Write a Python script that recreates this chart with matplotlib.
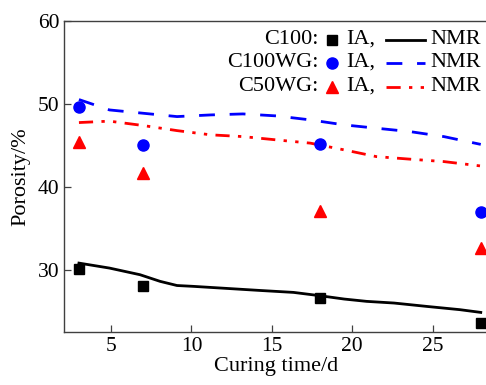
import matplotlib
matplotlib.use("Agg")
import matplotlib.pyplot as plt
from matplotlib.lines import Line2D

plt.rcParams['font.family'] = ['Liberation Serif', 'DejaVu Serif']

# IA measurements (curing days)
ia_days = [3, 7, 18, 28]
ia_c100 = [30.1, 28.0, 26.6, 23.6]
ia_c100wg = [49.6, 45.0, 45.2, 37.0]
ia_c50wg = [45.4, 41.7, 37.1, 32.6]

# NMR curves
nmr_days_c100 = [3.0, 4.9, 6.8, 8.05, 9.1, 10.1, 12.2, 14.3, 16.35, 18.0, 19.5, 20.9, 22.6, 24.65, 26.7, 28.0]
nmr_c100 = [30.8, 30.2, 29.4, 28.6, 28.1, 28.0, 27.75, 27.5, 27.27, 26.87, 26.47, 26.19, 25.99, 25.58, 25.19, 24.86]

nmr_days = [3.0, 4.9, 7.0, 9.1, 11.2, 13.2, 15.3, 17.4, 19.5, 21.5, 23.6, 25.7, 28.0]
nmr_c100wg = [50.5, 49.25, 48.85, 48.45, 48.65, 48.77, 48.53, 48.05, 47.45, 47.05, 46.64, 46.04, 45.1]
nmr_c50wg = [47.73, 47.9, 47.37, 46.76, 46.25, 46.04, 45.64, 45.25, 44.44, 43.63, 43.32, 43.03, 42.5]

series_names = ['C100:', 'C100WG:', 'C50WG:']
colors = ['black', '#0000ff', '#ff0000']
markers = ['s', 'o', '^']
marker_sizes = [7, 8, 8.5]
dash_styles = [None, (5.7, 5.3), (5.1, 3, 1.2, 3, 1.2, 3)]
LW = 2.0

fig = plt.figure(figsize=(4.86, 3.85), dpi=100)
ax = fig.add_axes([64 / 486, 1 - 332 / 385, 424 / 486, (332 - 20.7) / 385])

ia_sets = [ia_c100, ia_c100wg, ia_c50wg]
nmr_sets = [(nmr_days_c100, nmr_c100), (nmr_days, nmr_c100wg), (nmr_days, nmr_c50wg)]

for i in range(3):
    x, y = nmr_sets[i]
    line, = ax.plot(x, y, color=colors[i], lw=LW, zorder=2)
    if dash_styles[i] is not None:
        line.set_dashes(dash_styles[i])
    ax.plot(ia_days, ia_sets[i], linestyle='none', marker=markers[i],
            markersize=marker_sizes[i], color=colors[i], zorder=3)

ax.set_xlim(2.07, 28.45)
ax.set_ylim(22.5, 60)
ax.set_xticks([5, 10, 15, 20, 25])
ax.set_yticks([30, 40, 50, 60])
ax.tick_params(direction='in', length=5, width=0.9, labelsize=15.5, color='#404040')
for s in ax.spines.values():
    s.set_color('#404040')
    s.set_linewidth(1.0)
ax.spines['right'].set_visible(False)

ax.set_xlabel('Curing time/d', fontsize=16, labelpad=1)
ax.set_ylabel('Porosity/%', fontsize=16, labelpad=5)

# hand-built legend in figure pixel coordinates
row_y = [39.5, 62.5, 86.5]
for i in range(3):
    yy = 1 - row_y[i] / 385
    fig.text(318 / 486, yy, series_names[i], ha='right', va='center', fontsize=16)
    fig.add_artist(Line2D([332 / 486], [yy], marker=markers[i], markersize=marker_sizes[i],
                          color=colors[i], linestyle='none'))
    fig.text(346 / 486, yy, 'IA,', ha='left', va='center', fontsize=16)
    ln = Line2D([386 / 486, 425 / 486], [yy, yy], color=colors[i], lw=LW)
    if dash_styles[i] is not None:
        ln.set_dashes(dash_styles[i])
    fig.add_artist(ln)
    fig.text(430 / 486, yy, 'NMR', ha='left', va='center', fontsize=16)

fig.savefig('out.png', dpi=100)
